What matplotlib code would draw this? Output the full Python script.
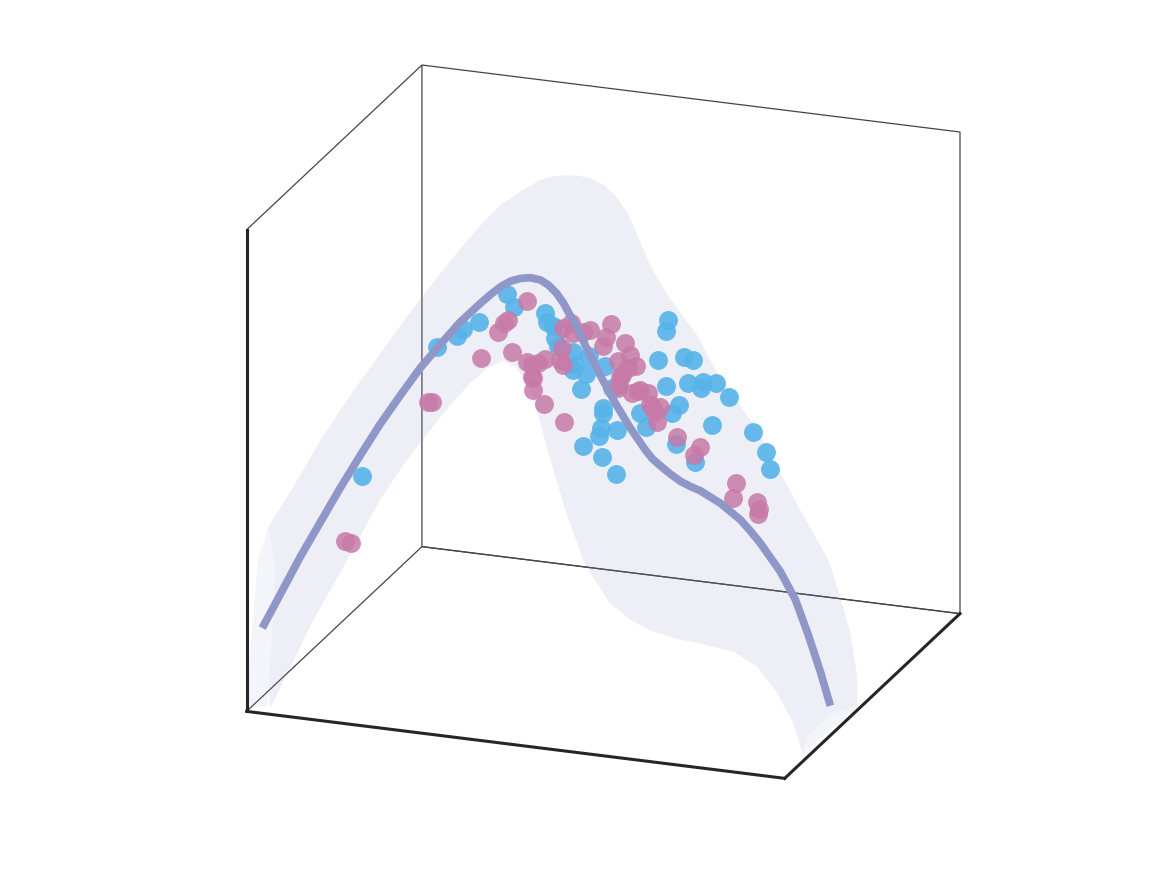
import matplotlib
matplotlib.use("Agg")
import matplotlib.pyplot as plt

# values, arbitrary units (no tick labels on the chart)
curve_x = [-73, -55, -35, -15, 5, 25, 45, 65, 85, 105, 125, 145, 155, 165, 175, 185, 195, 205, 213,
           221, 228, 235, 242, 250, 265, 280, 295, 310, 317, 325, 335, 345, 355, 365, 375, 385,
           395, 405, 415, 425, 435, 445, 460, 473, 485, 495]
curve_z = [3, 39, 79, 116, 153, 188, 222, 253, 283, 309, 334, 355, 365, 374, 381, 385, 387, 386, 382,
           375, 366, 354, 343, 326, 298, 272, 249, 229, 221, 215, 208, 202, 198, 195, 190, 185,
           178, 171, 161, 150, 137, 124, 98, 64, 29, -4]

blue_x = [27, 102, 122, 128, 144, 172, 179, 210, 212, 218, 220, 223, 238, 240, 238, 251, 254,
          246, 270, 277, 268, 268, 266, 264, 282, 248, 267, 281, 305, 311, 337, 344, 341, 360,
          331, 333, 331, 323, 349, 358, 353, 368, 366, 381, 394, 377, 418, 431, 435]
blue_z = [168, 306, 320, 327, 336, 368, 356, 354, 345, 342, 330, 322, 318, 305, 300, 298, 316,
          282, 308, 287, 266, 261, 245, 237, 245, 225, 217, 201, 265, 252, 269, 278, 239, 223,
          296, 362, 351, 321, 327, 325, 301, 304, 298, 305, 292, 262, 260, 242, 225]

pink_x = [10, 16, 93, 97, 146, 163, 169, 173, 192, 177, 192, 210, 203, 197, 197, 198, 198, 209,
          229, 227, 225, 228, 228, 236, 238, 248, 255, 276, 271, 268, 290, 295, 283, 301, 293,
          287, 285, 283, 284, 297, 303, 305, 313, 315, 317, 320, 325, 322, 342, 359, 365, 401,
          398, 422, 424, 423]
pink_z = [100, 99, 250, 250, 301, 329, 338, 342, 363, 310, 302, 308, 303, 300, 288, 287, 275, 262,
          247, 321, 308, 304, 341, 347, 337, 339, 342, 351, 337, 328, 333, 322, 315, 312, 309,
          301, 299, 288, 291, 284, 287, 288, 286, 276, 273, 268, 274, 258, 246, 230, 239, 207,
          192, 191, 184, 179]

band_top_x = [-67, -62, -60, -67, -42, -15, 15, 65, 90, 115, 140, 165, 185, 205, 217, 230, 243,
              255, 268, 280, 291, 300, 315, 332, 362, 382, 422, 465, 493, 505, 515, 522, 522]
band_top_z = [-58, 19, 69, 105, 148, 198, 247, 323, 359, 394, 427, 456, 472, 486, 491, 494, 495,
              494, 489, 480, 466, 448, 414, 387, 350, 315, 263, 188, 142, 106, 71, 28, 2]
band_low_x = [-65, -50, -22, 8, 27, 45, 70, 97, 117, 135, 152, 168, 180, 190, 198, 205, 215,
              230, 240, 250, 275, 295, 315, 340, 365, 398, 422, 442, 458, 467, 473, 495, 522]
band_low_z = [-76, -44, 17, 74, 111, 146, 187, 225, 252, 274, 291, 301, 296, 284, 267, 243, 207,
              159, 132, 106, 71, 57, 49, 44, 42, 38, 26, 2, -26, -55, -36, -13, 0]

left_a_x = [-67, -77, -85, -88]
left_a_z = [105, 73, -18, -78]
left_b_x = [-60, -62, -67, -68]
left_b_z = [69, 19, -55, -75]

right_a_x = [467, 473, 495, 522]
right_a_z = [-55, -36, -13, 0]
right_b_x = [467, 485, 505, 522]
right_b_z = [-57, -37, -19, -3]

XLIM = (-1, 537)
YLIM = (0, 1)
ZLIM = (11, 493)
DEPTH = 0.5

LINE_COLOR = "#8f96c8"
BLUE = "#56b4e9"
PINK = "#c77aa8"

fig = plt.figure(figsize=(11.66, 8.74), dpi=100)
ax = fig.add_axes([591.5 / 1166 - 0.375, 1 - 433.5 / 874 - 0.5, 0.75, 1.0],
                  projection="3d", proj_type="ortho", computed_zorder=False)
ax.view_init(elev=20, azim=-70)
ax.set_xlim(*XLIM)
ax.set_ylim(*YLIM)
ax.set_zlim(*ZLIM)
ax.set_box_aspect((572, 512, 512), zoom=1.026)


def flat(values):
    return [DEPTH] * len(values)


ax.fill_between(band_top_x, flat(band_top_x), band_top_z, band_low_x, flat(band_low_x), band_low_z,
                mode="polygon", facecolors=LINE_COLOR, alpha=0.15, linewidth=0, zorder=1)
ax.fill_between(left_a_x, flat(left_a_x), left_a_z, left_b_x, flat(left_b_x), left_b_z,
                mode="polygon", facecolors=LINE_COLOR, alpha=0.09, linewidth=0, zorder=1)
ax.fill_between(right_a_x, flat(right_a_x), right_a_z, right_b_x, flat(right_b_x), right_b_z,
                mode="polygon", facecolors=LINE_COLOR, alpha=0.09, linewidth=0, zorder=1)

ax.scatter(blue_x, flat(blue_x), blue_z, s=185, c=BLUE, alpha=0.9, linewidths=0,
           depthshade=False, zorder=2)
ax.scatter(pink_x, flat(pink_x), pink_z, s=185, c=PINK, alpha=0.85, linewidths=0,
           depthshade=False, zorder=3)
ax.plot(curve_x, flat(curve_x), curve_z, color=LINE_COLOR, lw=5.6, solid_capstyle="butt", zorder=4)

for axis in (ax.xaxis, ax.yaxis, ax.zaxis):
    axis.pane.set_alpha(None)
    axis.pane.set_fill(False)
    axis.pane.set_edgecolor("#444444")
    axis.pane.set_linewidth(0.9)
    axis.line.set_color((0, 0, 0, 0))
ax.grid(False)
ax.set_xticks([])
ax.set_yticks([])
ax.set_zticks([])

# front edges of the box are heavier
ax.plot(XLIM, [YLIM[0]] * 2, [ZLIM[0]] * 2, color="#262626", lw=2.2, zorder=5)
ax.plot([XLIM[1]] * 2, YLIM, [ZLIM[0]] * 2, color="#262626", lw=2.2, zorder=5)
ax.plot([XLIM[0]] * 2, [YLIM[0]] * 2, ZLIM, color="#262626", lw=2.2, zorder=5)

fig.savefig("out.png", dpi=100)
